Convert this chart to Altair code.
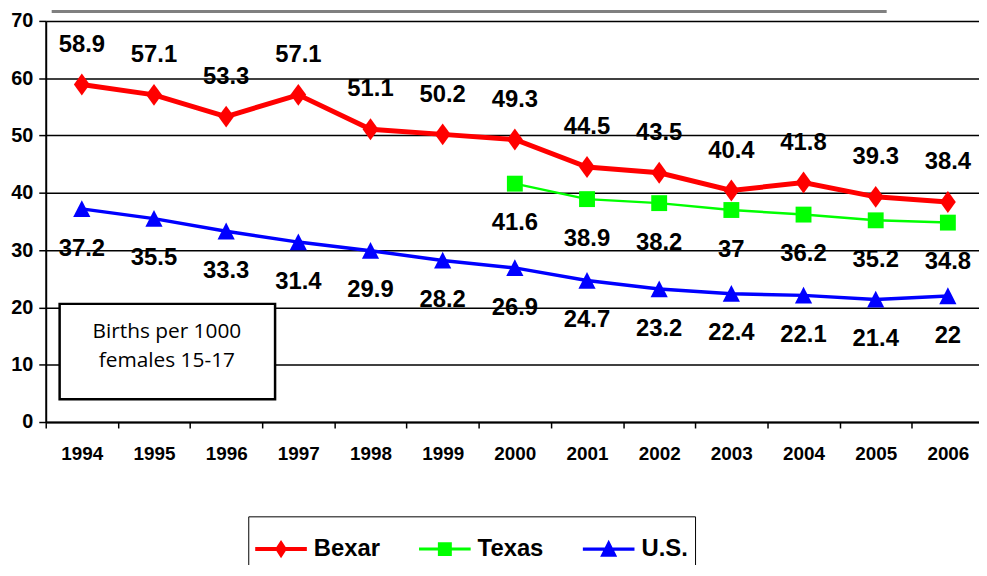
import altair as alt
import pandas as pd

years = ["1994", "1995", "1996", "1997", "1998", "1999", "2000",
         "2001", "2002", "2003", "2004", "2005", "2006"]
bexar = [58.9, 57.1, 53.3, 57.1, 51.1, 50.2, 49.3, 44.5, 43.5, 40.4, 41.8, 39.3, 38.4]
texas_years = ["2000", "2001", "2002", "2003", "2004", "2005", "2006"]
texas = [41.6, 38.9, 38.2, 37, 36.2, 35.2, 34.8]
us = [37.2, 35.5, 33.3, 31.4, 29.9, 28.2, 26.9, 24.7, 23.2, 22.4, 22.1, 21.4, 22]
series_names = ["Bexar", "Texas", "U.S."]
series_colors = ["#FF0000", "#00FF00", "#0000FF"]
box_lines = ["Births per 1000", "females 15-17"]

rows = []
for y, v in zip(years, bexar):
    rows.append({"year": y, "value": v, "series": "Bexar"})
for y, v in zip(texas_years, texas):
    rows.append({"year": y, "value": v, "series": "Texas"})
for y, v in zip(years, us):
    rows.append({"year": y, "value": v, "series": "U.S."})
df = pd.DataFrame(rows)

FONT = "Liberation Sans"

x_enc = alt.X("year:O", sort=years,
              scale=alt.Scale(type="band", paddingInner=0, paddingOuter=0),
              bandPosition=0.5,
              axis=alt.Axis(title=None, tickBand="extent", labelAngle=0,
                            labelFont=FONT, labelFontWeight="bold", labelFontSize=19,
                            labelColor="black", tickColor="black", tickSize=6,
                            tickWidth=1.5, domainColor="black", domainWidth=2,
                            labelPadding=17, grid=False))
y_enc = alt.Y("value:Q", scale=alt.Scale(domain=[0, 70], nice=False, zero=True),
              axis=alt.Axis(title=None, values=[0, 10, 20, 30, 40, 50, 60, 70],
                            labelFont=FONT, labelFontWeight="bold", labelFontSize=20,
                            labelColor="black", tickColor="black", tickSize=7,
                            tickWidth=1.5, domainColor="black", domainWidth=2,
                            labelPadding=6, grid=True, gridColor="black",
                            gridWidth=1.5))

base = alt.Chart(df)

marker_paths = {
    "Bexar": "M0,-1.1L0.8,0L0,1.1L-0.8,0Z",
    "Texas": "M-1,-1L1,-1L1,1L-1,1Z",
    "U.S.": "M0,-1L1,0.95L-1,0.95Z",
}
marker_sizes = {"Bexar": 400, "Texas": 256, "U.S.": 300}
line_widths = {"Bexar": 5, "Texas": 2.5, "U.S.": 3.5}
label_dy = {"Bexar": -40, "Texas": 40, "U.S.": 40}

legend_paths = [
    "M-1,-0.077L1,-0.077L1,0.077L-1,0.077Z M0,-0.35L0.23,0L0,0.35L-0.23,0Z",
    "M-1,-0.058L1,-0.058L1,0.058L-1,0.058Z M-0.27,-0.27L0.27,-0.27L0.27,0.27L-0.27,0.27Z",
    "M-1,-0.067L1,-0.067L1,0.067L-1,0.067Z M0,-0.36L0.33,0.3L-0.33,0.3Z",
]

legend_opts = dict(title=None, orient="none", legendX=204, legendY=499,
                   direction="horizontal", strokeColor="black",
                   fillColor="white", padding=7,
                   labelFont=FONT, labelFontWeight="bold",
                   labelFontSize=24, labelColor="black",
                   symbolSize=2704, symbolOpacity=1,
                   symbolStrokeWidth=0, columnPadding=39,
                   labelOffset=7)

layers = []
# grey header strip (decoration, cropped title box)
layers.append(alt.Chart(pd.DataFrame({"a": [0]})).mark_rect(color="#808080").encode(
    x=alt.value(6), x2=alt.value(847), y=alt.value(-11), y2=alt.value(-8)))

for name, col in zip(series_names, series_colors):
    sub = base.transform_filter(alt.datum.series == name)
    layers.append(sub.mark_line(color=col, strokeWidth=line_widths[name]).encode(
        x=x_enc, y=y_enc))
for name, col in zip(series_names, series_colors):
    sub = base.transform_filter(alt.datum.series == name)
    layers.append(sub.mark_point(filled=True, opacity=1, color=col,
                                 shape=marker_paths[name], size=marker_sizes[name],
                                 strokeWidth=0).encode(x=x_enc, y=y_enc))
for name in series_names:
    sub = base.transform_filter(alt.datum.series == name)
    layers.append(sub.mark_text(font=FONT, fontWeight="bold", fontSize=24,
                                color="black", baseline="middle", align="center",
                                dy=label_dy[name]).encode(
        x=x_enc, y=y_enc, text=alt.Text("value:Q")))

# legend-only layer
layers.append(base.mark_point(filled=True, opacity=0).encode(
    x=x_enc, y=y_enc,
    color=alt.Color("series:N", scale=alt.Scale(domain=series_names, range=series_colors),
                    legend=alt.Legend(**legend_opts)),
    shape=alt.Shape("series:N", scale=alt.Scale(domain=series_names, range=legend_paths),
                    legend=alt.Legend(**legend_opts))))

# annotation box
layers.append(alt.Chart(pd.DataFrame({"a": [0]})).mark_rect(
    fill="white", stroke="black", strokeWidth=2.5).encode(
    x=alt.value(14), x2=alt.value(231), y=alt.value(285), y2=alt.value(381)))
layers.append(alt.Chart(pd.DataFrame({"a": [0]})).mark_text(
    text=box_lines, font="Open Sans", fontSize=21, color="black",
    lineHeight=30, align="center", baseline="middle").encode(
    x=alt.value(122), y=alt.value(313)))

chart = alt.layer(*layers).properties(
    width=945, height=404,
    autosize=alt.AutoSizeParams(type="none"),
    padding={"left": 38, "top": 11, "right": -5, "bottom": 142},
).configure_view(fill="#A6CAF0", stroke="black", strokeWidth=2).configure(
    background="white")

chart.save("out.html", embed_options={"renderer": "svg", "actions": False})
